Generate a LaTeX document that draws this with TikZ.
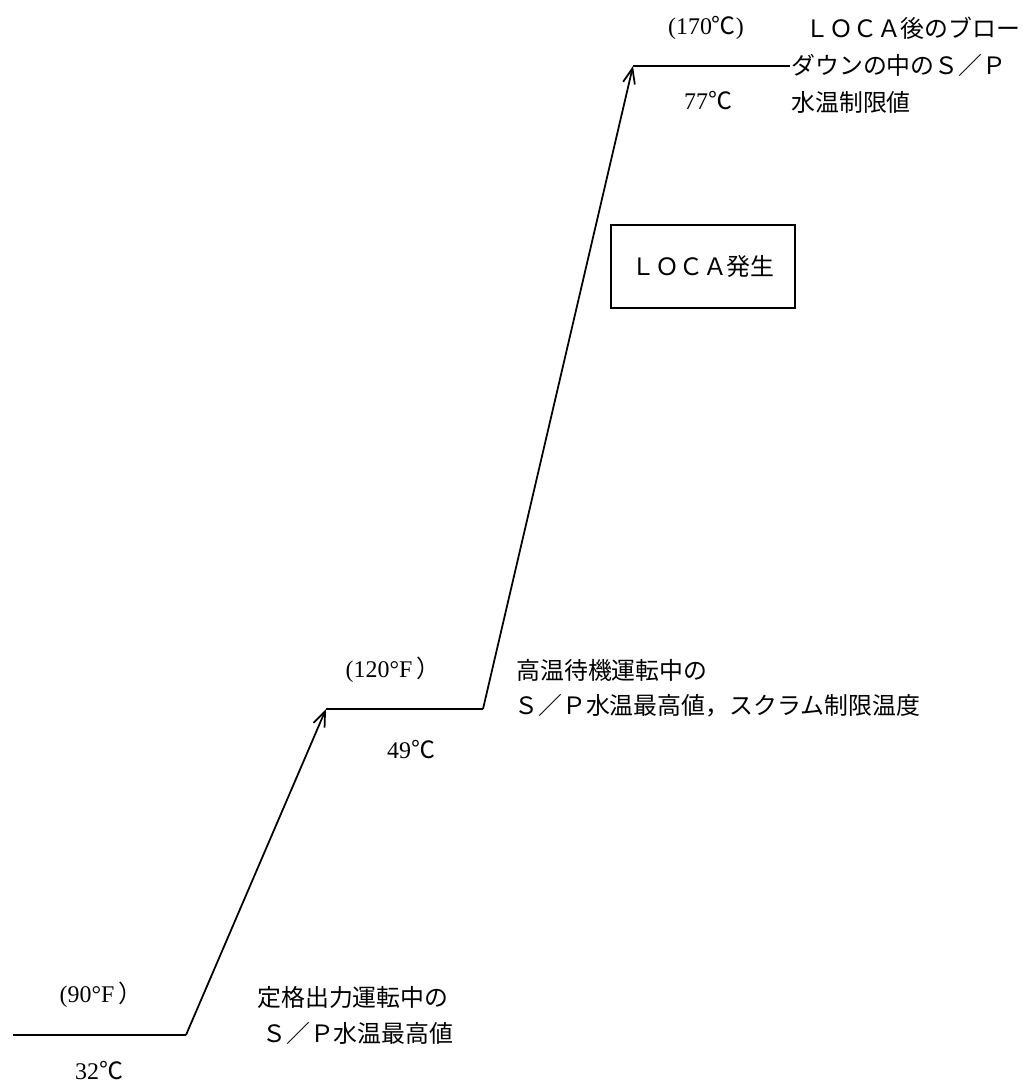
\documentclass[tikz,border=0pt]{standalone}
\usepackage{fontspec}
\setmainfont{Liberation Serif}
\newfontfamily\cjk{Noto Sans CJK JP}
\usepackage{tikz}
\usetikzlibrary{arrows.meta,positioning}
\tikzset{>={Straight Barb[length=3.8mm,width=3mm]},trend/.style={line width=1.25pt},temp label/.style={font=\fontsize{17pt}{20pt}\selectfont,inner sep=0pt},note text/.style={font=\cjk\fontsize{17pt}{20pt}\selectfont,inner sep=0pt,anchor=west},event box/.style={draw,line width=1.2pt,minimum width=4.6cm,minimum height=2.07cm,inner sep=0pt,font=\cjk\fontsize{17pt}{20pt}\selectfont}}

\begin{document}
\begin{tikzpicture}[x=0.025cm,y=-0.025cm]
    \useasboundingbox (0,0) rectangle (1022,1086);
    % corners of the temperature steps
    \coordinate (start) at (13,1035);
    \coordinate (rise1) at (186,1035);
    \coordinate (hold1) at (326,709);
    \coordinate (rise2) at (483,709);
    \coordinate (hold2) at (633,66);
    \coordinate (stop) at (790,66);
    \draw[trend] (start) -- (rise1);
    \draw[trend,->] (rise1) -- (hold1);
    \draw[trend] (hold1) -- (rise2);
    \draw[trend,->] (rise2) -- (hold2);
    \draw[trend] (hold2) -- (stop);

    \node[temp label] (f90) at (101,995) {(90°F\,{\cjk ）}};
    \node[temp label] (c32) at (99,1071) {32{\cjk ℃}};
    \node[temp label] (f120) at (393,670) {(120°F\,{\cjk ）}};
    \node[temp label] (c49) at (411,750) {49{\cjk ℃}};
    \node[temp label] (c170) at (706,28) {(170{\cjk ℃})};
    \node[temp label] (c77) at (708,101) {77{\cjk ℃}};

    \node[note text] (rated1) at (257,997) {定格出力運転中の};
    \node[note text] (rated2) at (262,1033) {Ｓ／Ｐ水温最高値};
    \node[note text] (hot1) at (516,670) {高温待機運転中の};
    \node[note text] (hot2) at (514,706) {Ｓ／Ｐ水温最高値，スクラム制限温度};
    \node[note text] (loca1) at (805,28) {ＬＯＣＡ後のブロー};
    \node[note text] (loca2) at (791,65) {ダウンの中のＳ／Ｐ};
    \node[note text] (loca3) at (791,102) {水温制限値};

    \node[event box] (event) at (703,266.5) {ＬＯＣＡ発生};
\end{tikzpicture}
\end{document}
